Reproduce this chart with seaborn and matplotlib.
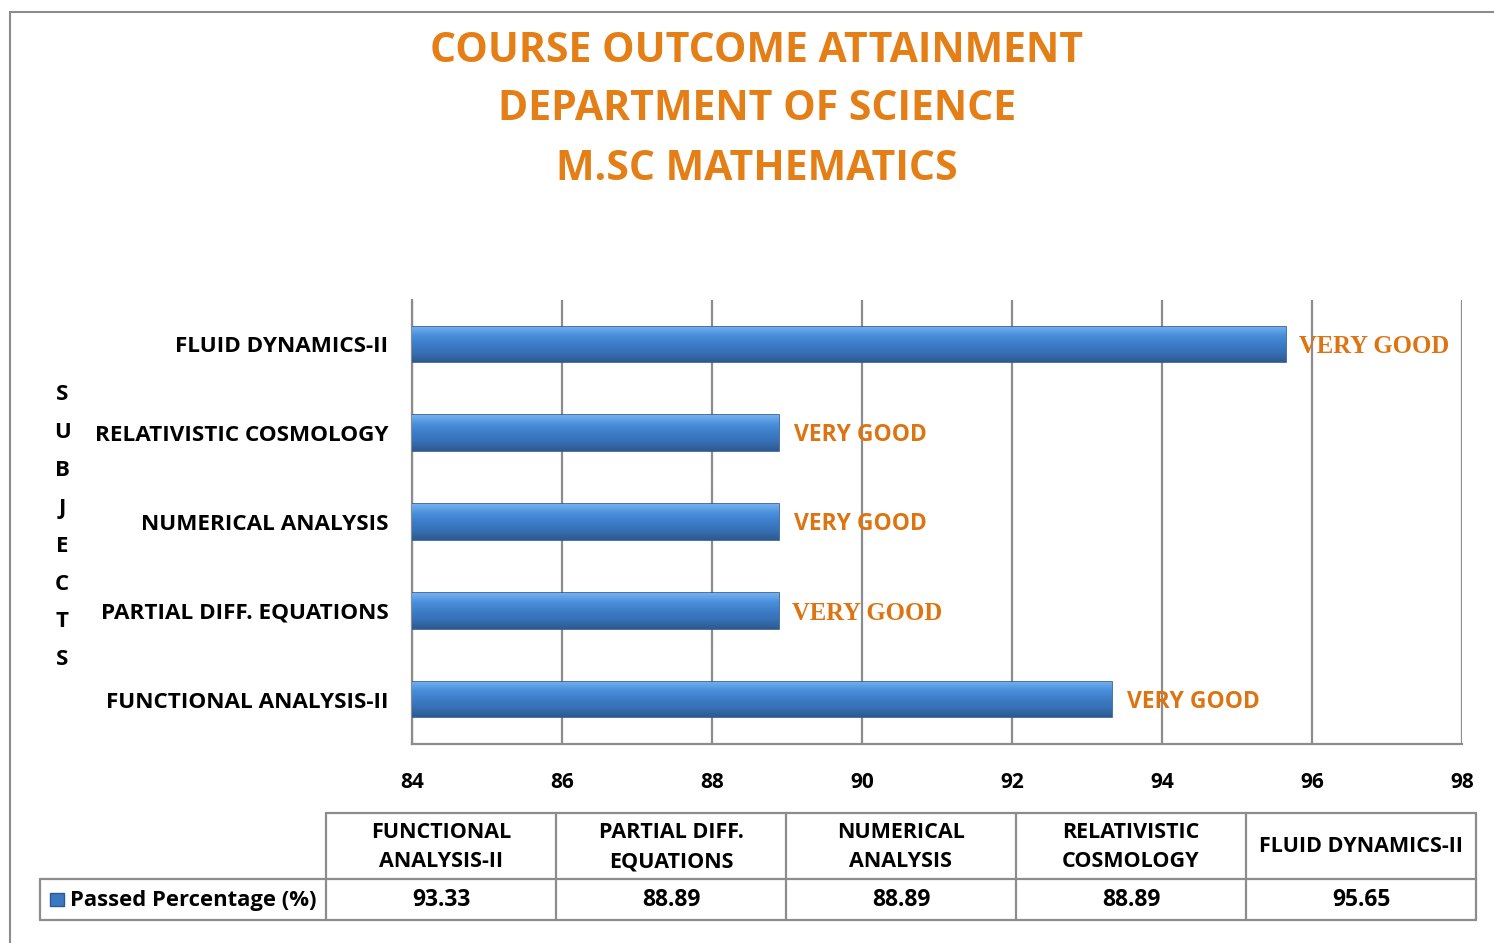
import numpy as np
import pandas as pd
import matplotlib
matplotlib.use("Agg")
import matplotlib.pyplot as plt
import seaborn as sns
from matplotlib.lines import Line2D
from matplotlib.patches import Rectangle
from matplotlib.colors import LinearSegmentedColormap

# Subjects in table order (left to right) and their pass percentages
subjects = ["FUNCTIONAL ANALYSIS-II", "PARTIAL DIFF. EQUATIONS", "NUMERICAL ANALYSIS",
            "RELATIVISTIC COSMOLOGY", "FLUID DYNAMICS-II"]
table_headers = ["FUNCTIONAL\nANALYSIS-II", "PARTIAL DIFF.\nEQUATIONS", "NUMERICAL\nANALYSIS",
                 "RELATIVISTIC\nCOSMOLOGY", "FLUID DYNAMICS-II"]
passed = [93.33, 88.89, 88.89, 88.89, 95.65]
ratings = ["VERY GOOD", "VERY GOOD", "VERY GOOD", "VERY GOOD", "VERY GOOD"]
serif_rating = [False, True, False, False, True]
x_ticks = [84, 86, 88, 90, 92, 94, 96, 98]
series_name = "Passed Percentage (%)"
title_lines = ["COURSE OUTCOME ATTAINMENT", "DEPARTMENT OF SCIENCE", "M.SC MATHEMATICS"]

sns.set_theme(style="white")
plt.rcParams["font.family"] = ["Open Sans", "DejaVu Sans"]
plt.rcParams["font.weight"] = "bold"

W, H = 1494, 943
fig = plt.figure(figsize=(W / 100, H / 100), dpi=100)

def fx(px):
    return px / W

def fy(py):
    return 1 - py / H

ax = fig.add_axes([fx(412), fy(744), fx(1462) - fx(412), fy(300) - fy(744)])

df = pd.DataFrame({"subject": subjects, "passed": passed})
order = subjects[::-1]
sns.barplot(data=df, x="passed", y="subject", order=order, orient="h",
            color="#3b78c4", width=0.4, ax=ax, saturation=1,
            edgecolor="#2b5a92", linewidth=1.2, zorder=3)

xmin, xmax = x_ticks[0], x_ticks[-1]
ax.set_xlim(xmin, xmax)
ax.set_ylim(len(order) - 0.5, -0.5)
ax.set_xticks(x_ticks)
ax.set_xticklabels([str(t) for t in x_ticks], fontsize=15, fontweight="bold", color="black")
ax.tick_params(axis="x", pad=20, length=0)
ax.tick_params(axis="y", pad=17, length=0, labelsize=16.2)
for lab in ax.get_yticklabels():
    lab.set_fontweight("bold")
    lab.set_color("black")
ax.set_xlabel("")
ax.set_ylabel("")
ax.grid(axis="x", color="#8c8c8c", linewidth=1.6, zorder=0)
ax.grid(axis="y", visible=False)
for side in ["top", "right"]:
    ax.spines[side].set_visible(False)
for side in ["left", "bottom"]:
    ax.spines[side].set_color("#8c8c8c")
    ax.spines[side].set_linewidth(1.6)

# Glossy vertical gradient on the visible part of each bar
grad_cmap = LinearSegmentedColormap.from_list(
    "barshade", ["#74b0f0", "#4a8fdb", "#3d7cc8", "#3670b4", "#2d5a8e"])
grad = np.linspace(0, 1, 64).reshape(-1, 1)
for patch in ax.patches:
    x0, y0 = patch.get_x(), patch.get_y()
    w, h = patch.get_width(), patch.get_height()
    left = max(x0, xmin)
    im = ax.imshow(grad, cmap=grad_cmap, aspect="auto",
                   extent=[left, x0 + w, y0 + h, y0], zorder=3.5, interpolation="bicubic")
    im.set_clip_path(patch)
ax.set_xlim(xmin, xmax)
ax.set_ylim(len(order) - 0.5, -0.5)

# Rating labels beside each bar
val_map = dict(zip(subjects, passed))
rate_map = dict(zip(subjects, ratings))
serif_map = dict(zip(subjects, serif_rating))
for i, s in enumerate(order):
    if serif_map[s]:
        ax.text(val_map[s] + 0.18, i + 0.025, rate_map[s], va="center", ha="left",
                fontsize=17.8, fontweight="bold", color="#dc7412",
                family=["Liberation Serif", "DejaVu Serif"], zorder=5)
    else:
        ax.text(val_map[s] + 0.2, i + 0.025, rate_map[s], va="center", ha="left",
                fontsize=16.5, fontweight="bold", color="#dc7412", zorder=5)

# Vertical axis caption built from stacked letters
caption = "SUBJECTS"
for k, ch in enumerate(caption):
    fig.text(fx(62), fy(395 + k * 37.8), ch, ha="center", va="center",
             fontsize=16, fontweight="bold", color="black")

# Title
for k, line in enumerate(title_lines):
    fig.text(fx(757), fy(51 + k * 59), line, ha="center", va="center",
             fontsize=29.5, fontweight="bold", color="#e47e16")

# Outer frame
frame_col = "#8c8c8c"
fig.add_artist(Line2D([fx(10), 1], [fy(12), fy(12)], color=frame_col, lw=1.5))
fig.add_artist(Line2D([fx(10), fx(10)], [fy(12), 0], color=frame_col, lw=1.5))

# Data table under the chart
col_edges = [326, 556, 786, 1016, 1246, 1476]
row_top, row_mid, row_bot = 813, 879, 920
label_left = 40
tcol = "#8c8c8c"
tlw = 1.6

def hline(y, x0, x1):
    fig.add_artist(Line2D([fx(x0), fx(x1)], [fy(y), fy(y)], color=tcol, lw=tlw))

def vline(x, y0, y1):
    fig.add_artist(Line2D([fx(x), fx(x)], [fy(y0), fy(y1)], color=tcol, lw=tlw))

hline(row_top, col_edges[0], col_edges[-1])
hline(row_mid, label_left, col_edges[-1])
hline(row_bot, label_left, col_edges[-1])
vline(label_left, row_mid, row_bot)
for xe in col_edges:
    vline(xe, row_top, row_bot)

for k, (hdr, val) in enumerate(zip(table_headers, passed)):
    cx = (col_edges[k] + col_edges[k + 1]) / 2
    fig.text(fx(cx), fy((row_top + row_mid) / 2 + 1), hdr, ha="center", va="center",
             fontsize=15.5, fontweight="bold", color="black", linespacing=1.55)
    fig.text(fx(cx), fy((row_mid + row_bot) / 2 + 1), f"{val:.2f}", ha="center", va="center",
             fontsize=16.5, fontweight="bold", color="black")

# Legend key and series name in the row header cell
fig.add_artist(Rectangle((fx(50), fy(906)), fx(64) - fx(50), fy(893) - fy(906),
                         facecolor="#3b78c4", edgecolor="#2b5a92", lw=1))
fig.text(fx(70), fy((row_mid + row_bot) / 2 + 1), series_name, ha="left", va="center",
         fontsize=15.8, fontweight="bold", color="black")

fig.savefig("out.png", dpi=100, facecolor="white")
